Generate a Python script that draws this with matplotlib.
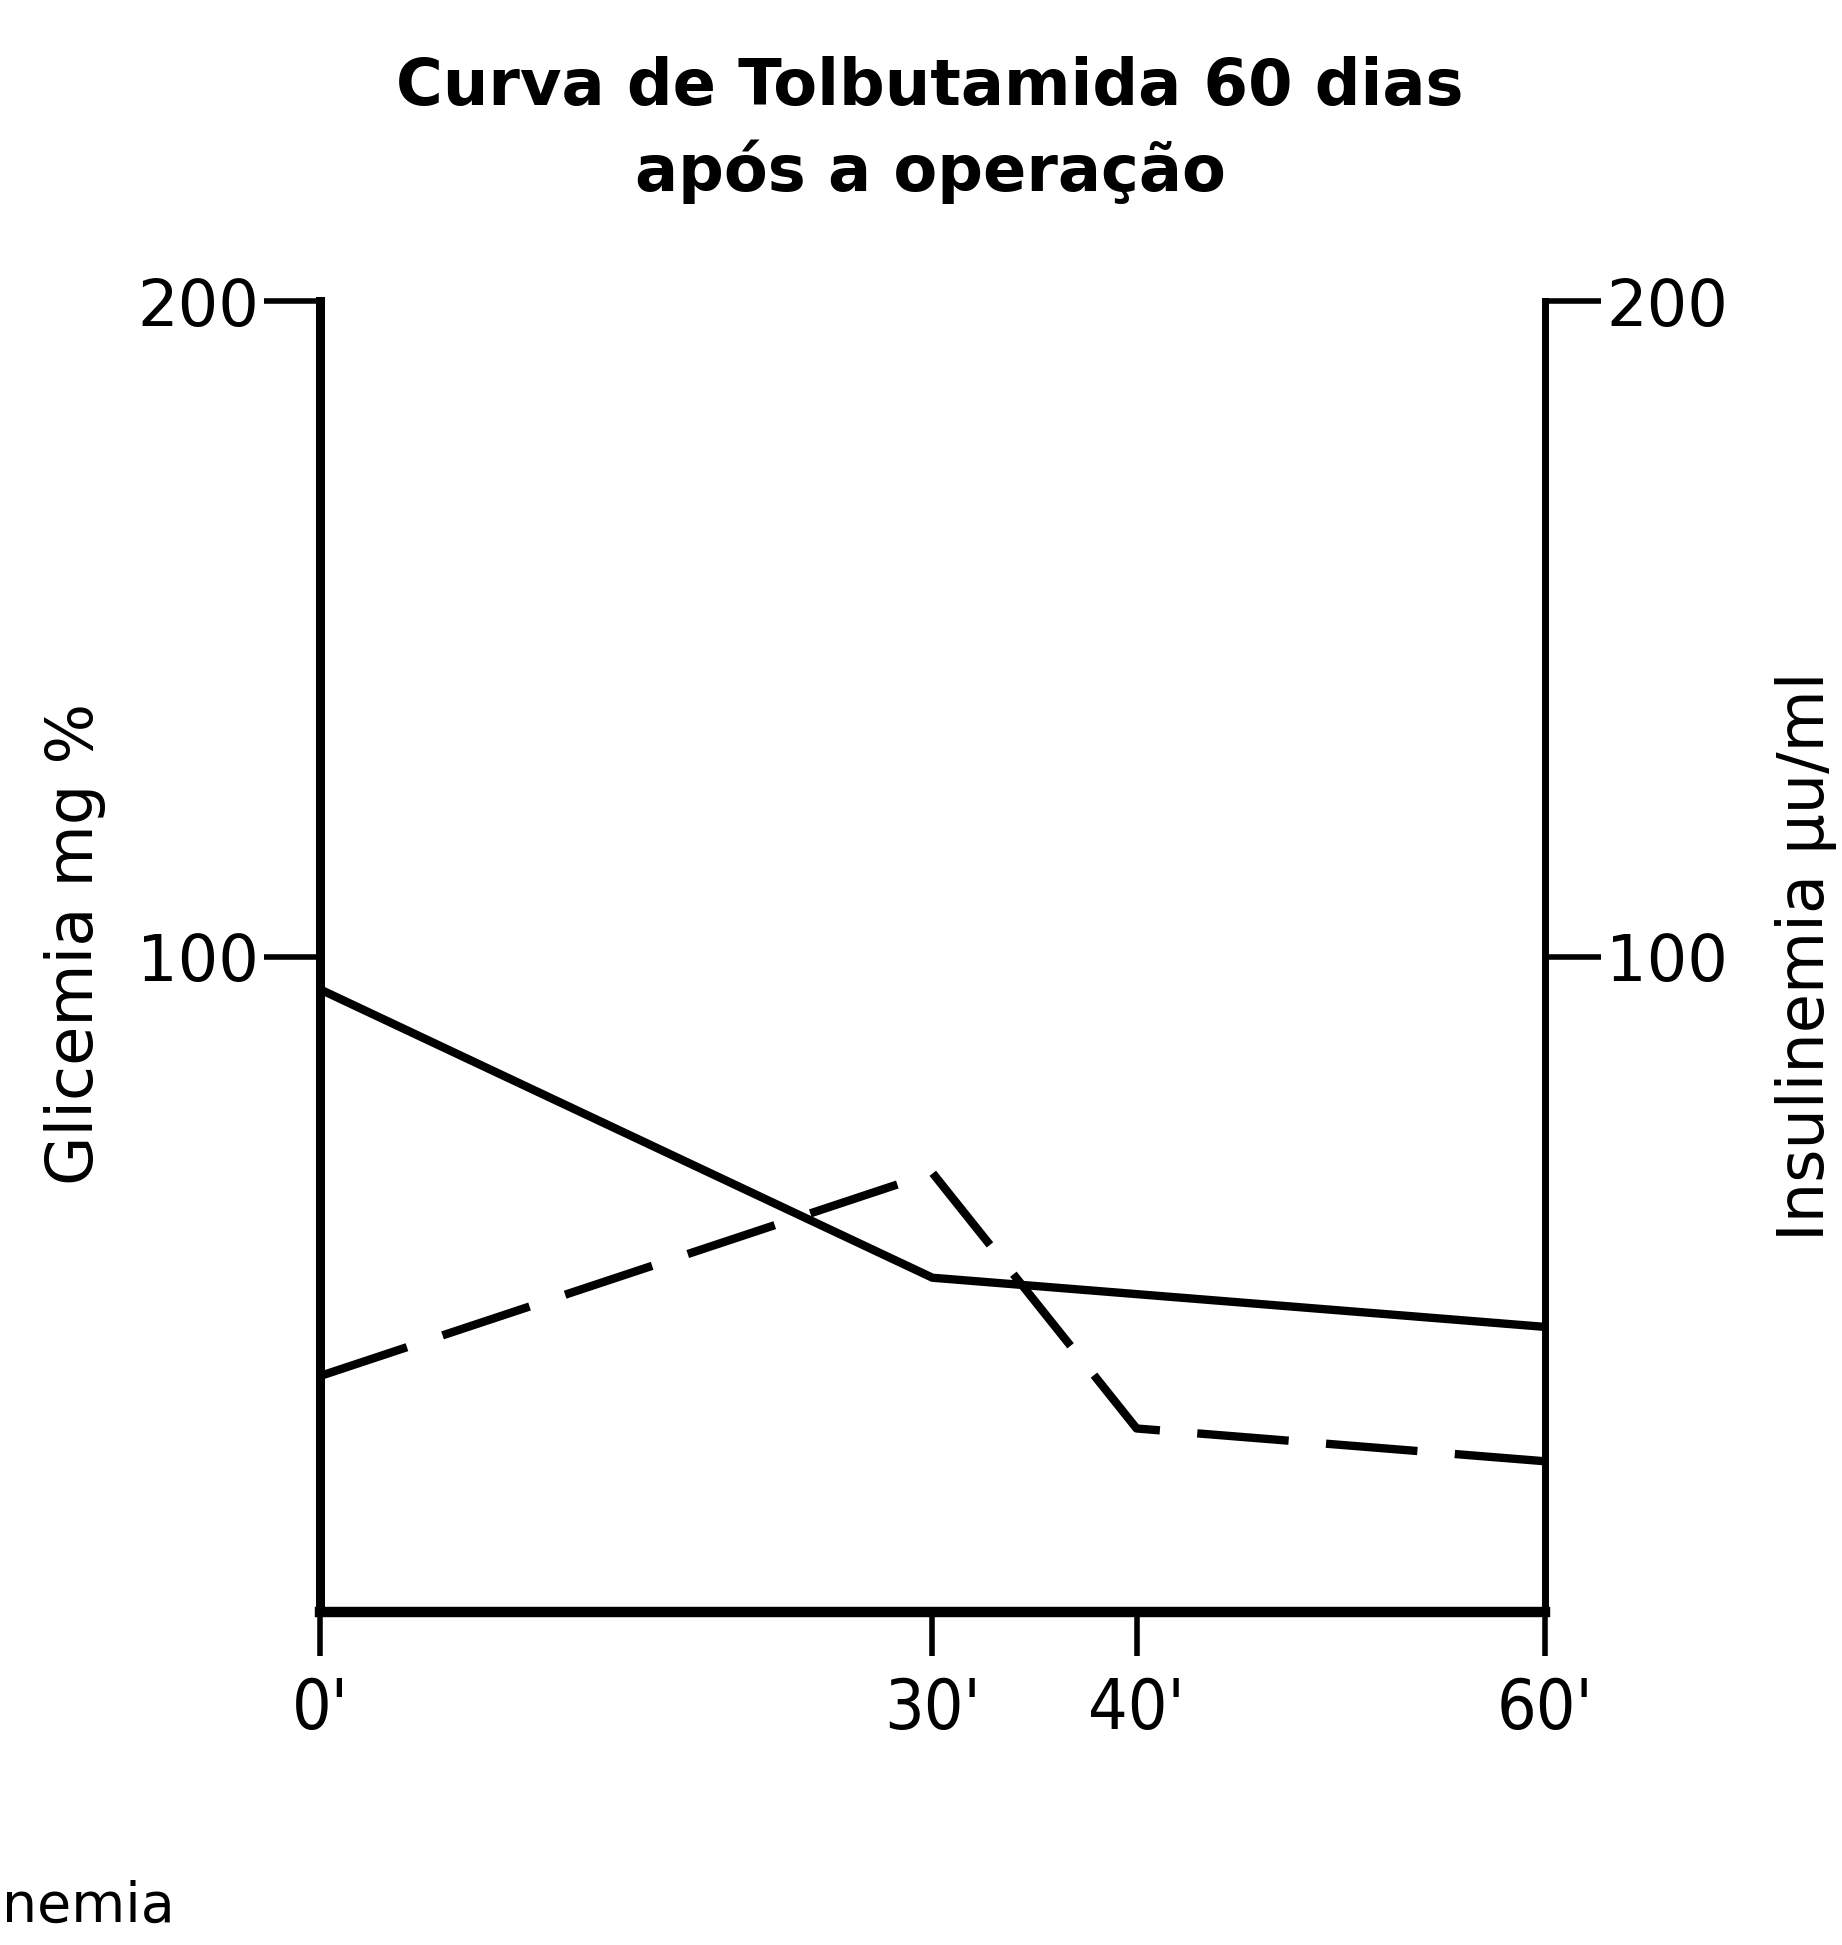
import matplotlib.pyplot as plt

# tempo (minutos) e valores
tempos = [0, 30, 40, 60]
rotulos_x = ["0'", "30'", "40'", "60'"]
glicemia = [95, 51, 48.5, 43.5]      # mg %  (linha cheia, eixo esquerdo)
insulinemia = [36, 67, 28, 23]       # uU/ml (linha tracejada, eixo direito)
ticks_y = [100, 200]

fig = plt.figure(figsize=(18.42, 19.45), dpi=100)
ax = fig.add_axes([0.1737, 0.1712, 0.665, 0.674])
ax2 = ax.twinx()

ax.plot(tempos, glicemia, color='black', lw=6, solid_capstyle='butt')
ax2.plot(tempos, insulinemia, color='black', lw=6, dashes=(11, 4.5))

for a in (ax, ax2):
    a.set_xlim(0, 60)
    a.set_ylim(0, 200)
    a.spines['top'].set_visible(False)

ax.spines['left'].set_linewidth(6.5)
ax.spines['bottom'].set_linewidth(7.5)
ax.spines['right'].set_visible(False)
ax2.spines['left'].set_visible(False)
ax2.spines['bottom'].set_visible(False)
ax2.spines['right'].set_linewidth(5)

ax.set_xticks(tempos)
ax.set_xticklabels(rotulos_x, fontsize=50, fontstretch='condensed')
ax.set_yticks(ticks_y)
ax.set_yticklabels([str(v) for v in ticks_y], fontsize=46)
ax2.set_yticks(ticks_y)
ax2.set_yticklabels([str(v) for v in ticks_y], fontsize=46)

ax.tick_params(axis='x', direction='out', length=32, width=4, pad=14)
ax.tick_params(axis='y', direction='out', length=40, width=4, pad=4)
ax2.tick_params(axis='y', direction='out', length=40, width=4, pad=4)

ax.set_ylabel("Glicemia mg %", fontsize=46)
ax2.set_ylabel("Insulinemia µu/ml", fontsize=46, rotation=90, labelpad=34)
ax.yaxis.set_label_coords(-0.175, 0.51)

fig.text(0.505, 0.971, "Curva de Tolbutamida 60 dias\napós a operação",
         ha='center', va='top', fontsize=46, fontweight='bold', linespacing=1.4)

# fragmento de texto cortado no canto inferior
fig.text(0.001, 0.006, "nemia", ha='left', va='bottom', fontsize=40)

fig.savefig("out.png", dpi=100)
